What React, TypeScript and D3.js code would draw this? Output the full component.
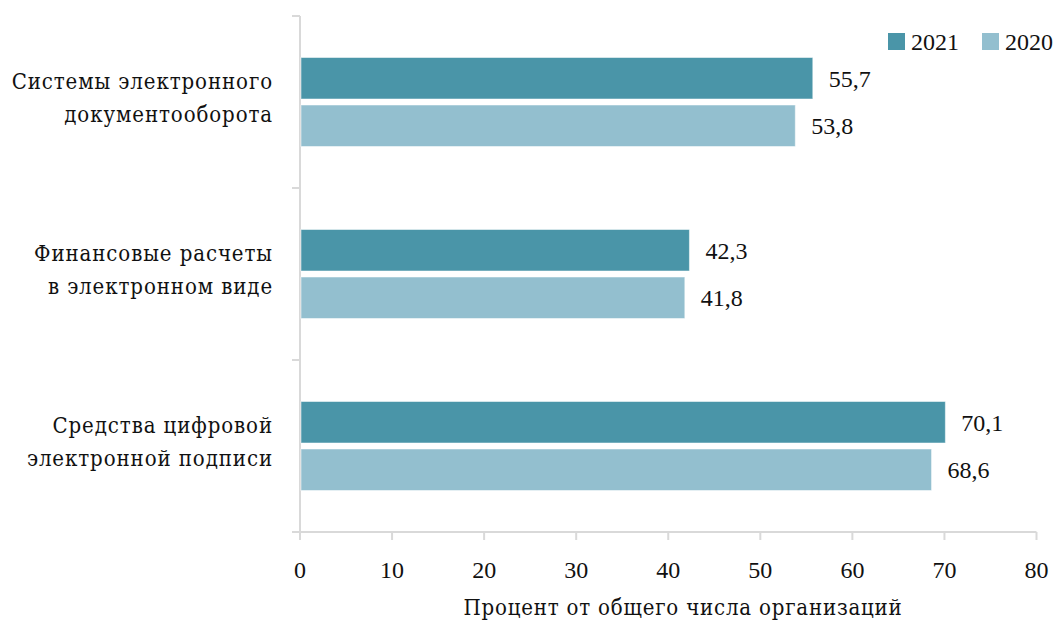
import React from "react";
import * as d3 from "d3";

const categories: string[][] = [
  ["Системы электронного", "документооборота"],
  ["Финансовые расчеты", "в электронном виде"],
  ["Средства цифровой", "электронной подписи"],
];
const series = ["2021", "2020"];
const values2021 = [55.7, 42.3, 70.1];
const values2020 = [53.8, 41.8, 68.6];
const xTicks = [0, 10, 20, 30, 40, 50, 60, 70, 80];
const axisTitle = "Процент от общего числа организаций";

const colors = ["#4a95a8", "#93bfcf"];
const W = 1059;
const H = 628;
const FONT = "'Liberation Serif', 'DejaVu Serif Condensed', 'DejaVu Serif', serif";
const CYR = "'DejaVu Serif Condensed', 'DejaVu Serif', serif";

export default function App() {
  const left = 300;
  const right = 1036.5;
  const top = 16;
  const bottom = 532;
  const x = d3.scaleLinear().domain([0, 80]).range([left, right]);
  const y = d3
    .scaleBand<number>()
    .domain(d3.range(categories.length))
    .range([top, bottom]);
  const barH = 41.5;
  const gap = 6;
  const fmt = (v: number) => v.toFixed(1).replace(".", ",");
  const all = [values2021, values2020];
  const axisColor = "#d9d9d9";
  const numSize = 24;

  return (
    <svg
      width={W}
      height={H}
      style={{ position: "absolute", left: 0, top: 0, background: "#fff" }}
      fontFamily={FONT}
    >
      <line x1={left} x2={left} y1={top} y2={bottom} stroke={axisColor} strokeWidth={2} />
      {d3.range(categories.length + 1).map((i) => {
        const yy = i < categories.length ? y(i)! : bottom;
        return (
          <line key={"yt" + i} x1={left - 8} x2={left} y1={yy} y2={yy} stroke={axisColor} strokeWidth={2} />
        );
      })}
      <line x1={left - 8} x2={right} y1={bottom} y2={bottom} stroke={axisColor} strokeWidth={2} />
      {xTicks.map((t) => (
        <g key={"xt" + t}>
          <line x1={x(t)} x2={x(t)} y1={bottom} y2={bottom + 8} stroke={axisColor} strokeWidth={2} />
          <text x={x(t)} y={578} textAnchor="middle" fontSize={numSize} fill="#111">
            {t}
          </text>
        </g>
      ))}
      <text
        x={683}
        y={615}
        textAnchor="middle"
        fontSize={22}
        letterSpacing={0.8}
        fill="#111"
        fontFamily={CYR}
      >
        {axisTitle}
      </text>
      {categories.map((lines, i) => {
        const c = y(i)! + y.bandwidth() / 2;
        return (
          <text
            key={"cat" + i}
            textAnchor="end"
            fontSize={22}
            letterSpacing={0.9}
            fill="#111"
            fontFamily={CYR}
          >
            {lines.map((l, j) => (
              <tspan key={j} x={273} y={c - 13 + j * 33}>
                {l}
              </tspan>
            ))}
          </text>
        );
      })}
      {categories.map((_, i) => {
        const c = y(i)! + y.bandwidth() / 2;
        return all.map((vals, s) => {
          const y0 = c - barH - gap / 2 + s * (barH + gap);
          return (
            <g key={"b" + i + "-" + s}>
              <rect
                x={x(0) + 1}
                y={y0}
                width={x(vals[i]) - x(0) - 1}
                height={barH}
                fill={colors[s]}
                stroke="#ffffff"
                strokeOpacity={0.5}
                strokeWidth={1}
              />
              <text x={x(vals[i]) + 16} y={y0 + barH / 2 + 8.5} fontSize={numSize} fill="#111">
                {fmt(vals[i])}
              </text>
            </g>
          );
        });
      })}
      {series.map((s, i) => {
        const lx = 888 + i * 94;
        return (
          <g key={"lg" + s}>
            <rect x={lx} y={33} width={17} height={17} fill={colors[i]} />
            <text x={lx + 23} y={50} fontSize={numSize} fill="#111">
              {s}
            </text>
          </g>
        );
      })}
    </svg>
  );
}
